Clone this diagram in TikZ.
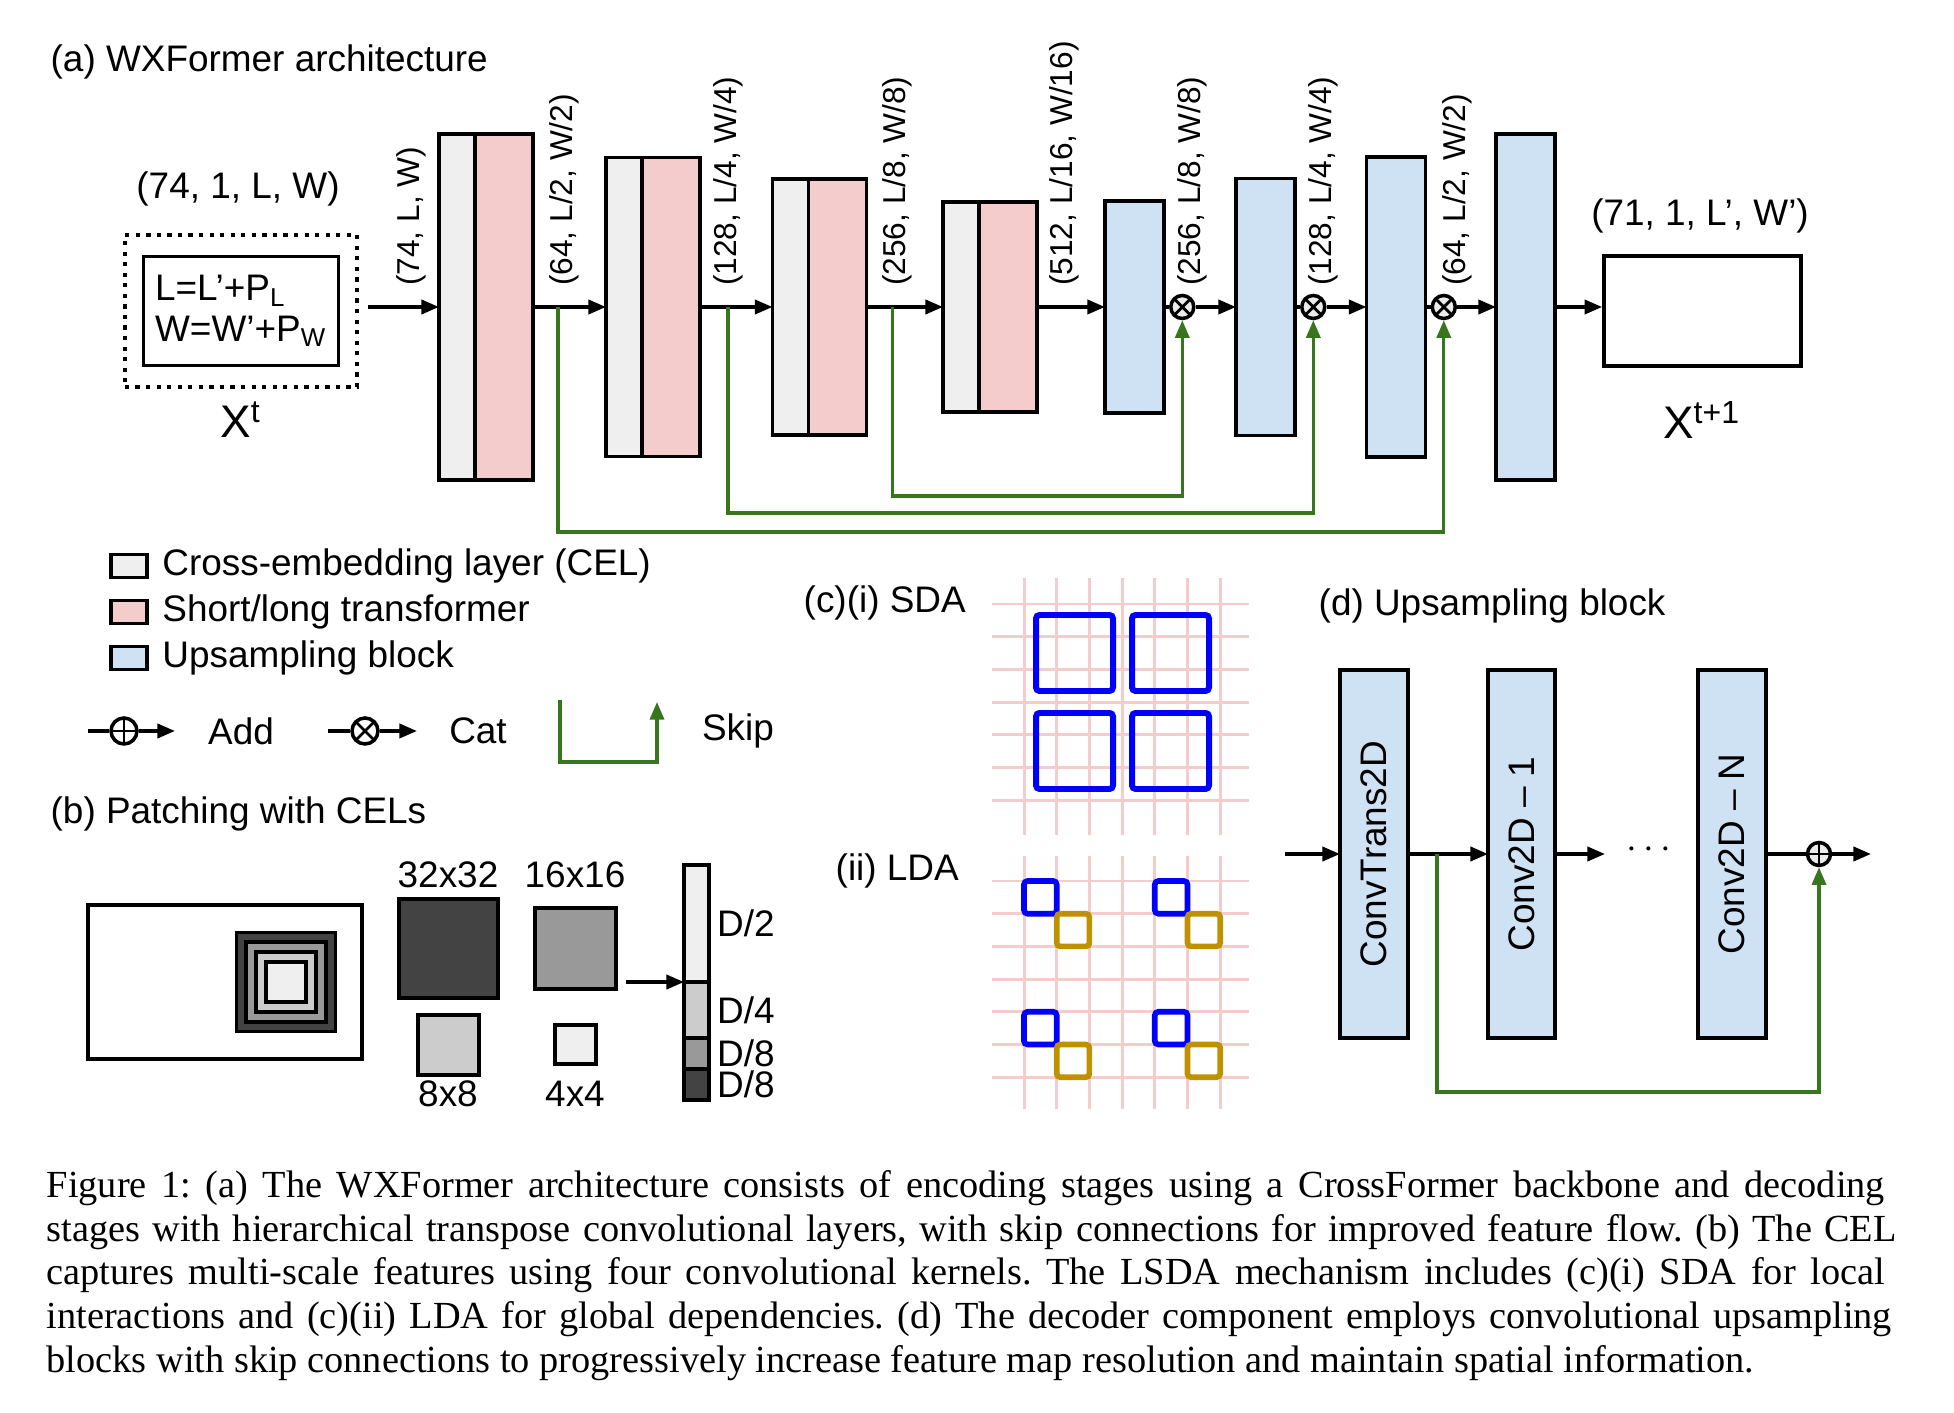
\documentclass[tikz,border=0pt]{standalone}
\usepackage{fontspec}
\setmainfont{Liberation Sans}
\newfontfamily\capfont{Liberation Serif}
\usetikzlibrary{positioning,arrows.meta}
\definecolor{celgray}{HTML}{EFEFEF}
\definecolor{stpink}{HTML}{F4CCCC}
\definecolor{upblue}{HTML}{CFE2F3}
\definecolor{skipgreen}{HTML}{38761D}
\definecolor{gridpink}{HTML}{F4CCCC}
\definecolor{ldagold}{HTML}{BF9000}
\definecolor{darkgr}{HTML}{434343}
\definecolor{midgr}{HTML}{999999}
\definecolor{lightgr}{HTML}{CCCCCC}
\tikzset{
  blk/.style={draw, line width=1pt, inner sep=0pt, outer sep=0pt},
  celbox/.style={blk, fill=celgray, minimum width=0.36cm},
  stbox/.style={blk, fill=stpink, minimum width=0.58cm},
  upbox/.style={blk, fill=upblue, minimum width=0.59cm},
  legsq/.style={blk, minimum width=0.36cm, minimum height=0.23cm},
  nsq/.style={blk, line width=0.9pt},
  bseg/.style={blk, minimum width=0.25cm},
  ttl/.style={anchor=west, inner sep=0pt},
  dimlab/.style={rotate=90, anchor=west, inner sep=1pt, font=\fontsize{9}{10}\selectfont},
  arr/.style={-{Triangle[length=5pt,width=4pt]}, line width=1pt},
  skipline/.style={-{Triangle[length=5pt,width=4pt]}, draw=skipgreen, line width=0.9pt},
  gridln/.style={draw=gridpink, line width=0.85pt},
  sdasq/.style={draw=blue, line width=1.7pt, rounded corners=1pt},
  ldablue/.style={draw=blue, line width=1.6pt, rounded corners=1pt},
  ldagoldsq/.style={draw=ldagold, line width=1.6pt, rounded corners=1pt},
  catop/.style={circle, draw, line width=1pt, fill=black!8, minimum size=0.23cm, inner sep=0pt,
    path picture={\draw[line width=0.8pt] (path picture bounding box.north west)--(path picture bounding box.south east)
      (path picture bounding box.north east)--(path picture bounding box.south west);}},
  addop/.style={circle, draw, line width=1pt, fill=black!8, minimum size=0.23cm, inner sep=0pt,
    path picture={\draw[line width=0.8pt] (path picture bounding box.north)--(path picture bounding box.south)
      (path picture bounding box.east)--(path picture bounding box.west);}}
}
\begin{document}
\begin{tikzpicture}[x=0.01cm, y=-0.01cm, font=\fontsize{10.5}{12.6}\selectfont]
\useasboundingbox (0,0) rectangle (1954,1413);

% (a) architecture
\node[ttl] (ttla) at (50,62) {(a) WXFormer architecture};
\node[draw, line width=1.2pt, dash pattern=on 1.2pt off 1.8pt, minimum width=2.32cm, minimum height=1.52cm] (xdot) at (241,311) {};
\node[draw, line width=1pt, minimum width=1.95cm, minimum height=1.09cm, align=left] (xpad) at (xdot.center) {L=L’+P\textsubscript{L}\\[-1pt]W=W’+P\textsubscript{W}};
\node (inshape) at (238,189) {(74, 1, L, W)};
\node[font=\fontsize{13}{15}\selectfont] (xt) at (241,420) {X\textsuperscript{t}};

\node[celbox, minimum height=3.46cm] (cel1) at (457,307) {};
\node[stbox, minimum height=3.46cm, right=0pt of cel1] (st1) {};
\node[celbox, minimum height=2.99cm] (cel2) at (624,307) {};
\node[stbox, minimum height=2.99cm, right=0pt of cel2] (st2) {};
\node[celbox, minimum height=2.56cm] (cel3) at (790.5,307) {};
\node[stbox, minimum height=2.56cm, right=0pt of cel3] (st3) {};
\node[celbox, minimum height=2.10cm] (cel4) at (961,307) {};
\node[stbox, minimum height=2.10cm, right=0pt of cel4] (st4) {};

\node[upbox, minimum height=2.12cm] (up1) at (1134.5,307) {};
\node[catop, right=0.05cm of up1] (ot1) {};
\node[upbox, minimum height=2.57cm] (up2) at (1265.5,307) {};
\node[catop, right=0.05cm of up2] (ot2) {};
\node[upbox, minimum height=3.00cm] (up3) at (1396,307) {};
\node[catop, right=0.05cm of up3] (ot3) {};
\node[upbox, minimum height=3.46cm] (up4) at (1525.5,307) {};

\node[draw, line width=1pt, minimum width=1.97cm, minimum height=1.10cm] (xout) at (1702.5,311) {};
\node (outshape) at (1700,216) {(71, 1, L’, W’)};
\node[font=\fontsize{13}{15}\selectfont] (xt1) at (1702,420) {X\textsuperscript{t+1}};

\coordinate (xdotr) at ([xshift=0.09cm]xdot.east);
\draw[arr] (xdotr |- cel1.west) -- (cel1.west);
\draw[arr] (st1) -- (cel2);
\draw[arr] (st2) -- (cel3);
\draw[arr] (st3) -- (cel4);
\draw[arr] (st4) -- (up1);
\draw[line width=1pt] (up1) -- (ot1);
\draw[arr] (ot1) -- (up2);
\draw[line width=1pt] (up2) -- (ot2);
\draw[arr] (ot2) -- (up3);
\draw[line width=1pt] (up3) -- (ot3);
\draw[arr] (ot3) -- (up4);
\draw[arr] (up4.east) -- (up4.east -| xout.west);

\node[dimlab] (d1) at (411,290) {(74, L, W)};
\node[dimlab] (d2) at (564,290) {(64, L/2, W/2)};
\node[dimlab] (d3) at (728,290) {(128, L/4, W/4)};
\node[dimlab] (d4) at (897,290) {(256, L/8, W/8)};
\node[dimlab] (d5) at (1064,290) {(512, L/16, W/16)};
\node[dimlab] (d6) at (1192,290) {(256, L/8, W/8)};
\node[dimlab] (d7) at (1323,290) {(128, L/4, W/4)};
\node[dimlab] (d8) at (1457,290) {(64, L/2, W/2)};

% skip connections
\coordinate (sk1) at ([xshift=0.25cm]st1.east);
\coordinate (sk2) at ([xshift=0.28cm]st2.east);
\coordinate (sk3) at ([xshift=0.26cm]st3.east);
\draw[skipline] (sk1) -- ++(0,225) -| (ot3.south);
\draw[skipline] (sk2) -- ++(0,206) -| (ot2.south);
\draw[skipline] (sk3) -- ++(0,189) -| (ot1.south);

% legend
\node[legsq, fill=celgray] (lg1) at (129,566) {};
\node[right=0.03cm of lg1] (lgt1) {Cross-embedding layer (CEL)};
\node[legsq, fill=stpink] (lg2) at (129,612) {};
\node[right=0.03cm of lg2] (lgt2) {Short/long transformer};
\node[legsq, fill=upblue] (lg3) at (129,658) {};
\node[right=0.03cm of lg3] (lgt3) {Upsampling block};

\coordinate (adda) at (88,731);
\node[addop, fill=white, minimum size=0.26cm] (addc) at (124,731) {};
\coordinate (addb) at (175,731);
\draw[line width=1pt] (adda) -- (addc);
\draw[arr] (addc) -- (addb);
\node (addt) at (241,731) {Add};
\coordinate (cata) at (328,731);
\node[catop, fill=white, minimum size=0.26cm] (catc) at (365,731) {};
\coordinate (catb) at (417,731);
\draw[line width=1pt] (cata) -- (catc);
\draw[arr] (catc) -- (catb);
\node (catt) at (478,731) {Cat};
\coordinate (ska) at (560,700);
\coordinate (skb) at (657,702);
\draw[skipline] (ska) -- ++(0,62) -| (skb);
\node (skipt) at (738,731) {Skip};

% (b) patching
\node[ttl] (ttlb) at (50,814) {(b) Patching with CELs};
\node[blk, minimum width=2.74cm, minimum height=1.54cm] (img) at (225,982) {};
\node[nsq, fill=darkgr, minimum size=0.99cm] (n1) at (286,982) {};
\node[nsq, fill=midgr, minimum size=0.80cm] (n2) at (286,982) {};
\node[nsq, fill=lightgr, minimum size=0.60cm] (n3) at (286,982) {};
\node[nsq, fill=celgray, minimum size=0.40cm] (n4) at (286,982) {};

\node[nsq, fill=darkgr, minimum size=0.99cm] (sq32) at (448.5,948.5) {};
\node[nsq, fill=midgr, minimum size=0.81cm] (sq16) at (575.5,948.5) {};
\node[nsq, fill=lightgr, minimum width=0.61cm, minimum height=0.60cm] (sq8) at (448.5,1045) {};
\node[nsq, fill=celgray, minimum width=0.41cm, minimum height=0.39cm] (sq4) at (575.5,1044.5) {};
\node (l32) at (448,875) {32x32};
\node (l16) at (575,875) {16x16};
\node (l8) at (448,1094) {8x8};
\node (l4) at (575,1094) {4x4};

\node[bseg, fill=celgray, minimum height=1.17cm] (bar1) at (696.5,923.5) {};
\node[bseg, fill=lightgr, minimum height=0.56cm, below=0pt of bar1] (bar2) {};
\node[bseg, fill=midgr, minimum height=0.31cm, below=0pt of bar2] (bar3) {};
\node[bseg, fill=darkgr, minimum height=0.31cm, below=0pt of bar3] (bar4) {};
\node[right=0.04cm of bar1, inner sep=1pt] (ld1) {D/2};
\node[right=0.04cm of bar2, inner sep=1pt] (ld2) {D/4};
\node[right=0.04cm of bar3, inner sep=1pt] (ld3) {D/8};
\node[right=0.04cm of bar4, inner sep=1pt] (ld4) {D/8};
\coordinate (bin) at ([xshift=0.1cm]sq16.east);
\draw[arr] (bin |- bar2.north west) -- (bar2.north west);

% (c) SDA / LDA
\node[ttl] (ttlc) at (803,603) {(c)(i) SDA};
\node[ttl] (ttlc2) at (835,871) {(ii) LDA};
\foreach \i in {0,...,6} {
  \draw[gridln] (1024+32.7*\i,578) -- (1024+32.7*\i,835);
  \draw[gridln] (992,604+32.7*\i) -- (1249,604+32.7*\i);
  \draw[gridln] (1024+32.7*\i,856) -- (1024+32.7*\i,1109);
  \draw[gridln] (992,881+32.7*\i) -- (1249,881+32.7*\i);
}
\draw[sdasq] (1036,615) rectangle (1113,691);
\draw[sdasq] (1132,615) rectangle (1209,691);
\draw[sdasq] (1036,713) rectangle (1113,789);
\draw[sdasq] (1132,713) rectangle (1209,789);
\foreach \a in {0,4} {
  \foreach \b in {0,4} {
    \draw[ldablue] (1024+32.7*\a,881+32.7*\b) rectangle ++(32.7,32.7);
    \draw[ldagoldsq] (1056.7+32.7*\a,913.7+32.7*\b) rectangle ++(32.7,32.7);
  }
}

% (d) upsampling block
\node[ttl] (ttld) at (1318,606) {(d) Upsampling block};
\node[upbox, minimum width=0.68cm, minimum height=3.68cm] (ctr) at (1374,854) {\rotatebox{90}{ConvTrans2D}};
\node[upbox, minimum width=0.67cm, minimum height=3.68cm] (cv1) at (1521.5,854) {\rotatebox{90}{Conv2D – 1}};
\node[upbox, minimum width=0.68cm, minimum height=3.68cm] (cvn) at (1732,854) {\rotatebox{90}{Conv2D – N}};
\node[addop] (addd) at (1819,854) {};
\node (dots) at (1649,850) {$\cdots$};
\coordinate (din) at (1285,854);
\coordinate (dmid) at (1605,854);
\coordinate (dout) at (1871,854);
\draw[arr] (din) -- (ctr);
\draw[arr] (ctr) -- (cv1);
\draw[arr] (cv1) -- (dmid);
\draw[line width=1pt] (cvn) -- (addd);
\draw[arr] (addd) -- (dout);
\coordinate (dsk) at ([xshift=0.29cm]ctr.east);
\draw[skipline] (dsk) -- ++(0,238) -| (addd.south);

% caption
\node[anchor=north west, inner sep=0pt, text width=18.62cm, font=\capfont\fontsize{10.9}{12.4}\selectfont\frenchspacing] (cap) at (46,1170)
{\hyphenpenalty=10000 \exhyphenpenalty=10000 \rightskip=0pt \parfillskip=0pt plus 1fil
\spaceskip=0.25em plus 0.4em minus 0.1em
Figure 1: (a) The WXFormer architecture consists of encoding stages using a CrossFormer backbone and decoding\linebreak
stages with hierarchical transpose convolutional layers, with skip connections for improved feature flow. (b) The CEL\linebreak
captures multi-scale features using four convolutional kernels. The LSDA mechanism includes (c)(i) SDA for local\linebreak
interactions and (c)(ii) LDA for global dependencies. (d) The decoder component employs convolutional upsampling\linebreak
blocks with skip connections to progressively increase feature map resolution and maintain spatial information.};
\end{tikzpicture}
\end{document}
